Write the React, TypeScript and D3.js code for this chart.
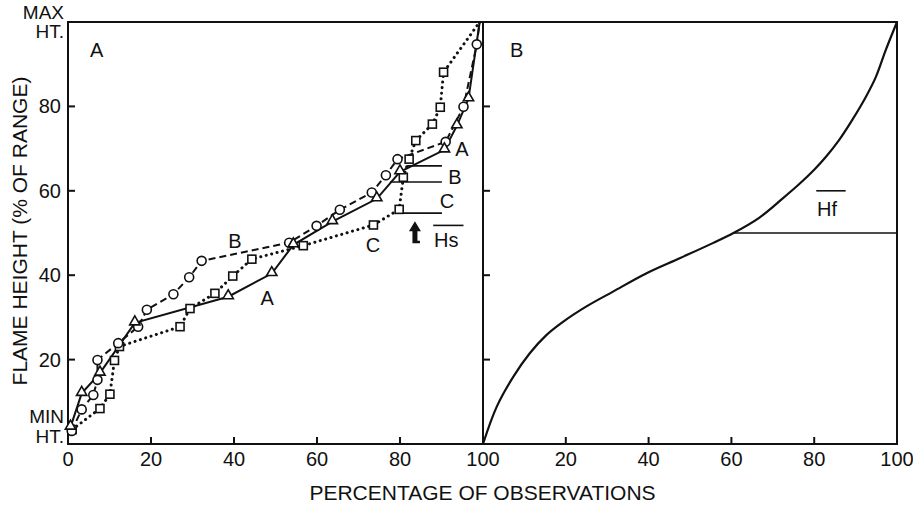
import React, { useRef, useEffect } from 'react';
import * as d3 from 'd3';

// panel A, observed series: [percentage of observations, flame height]
const seriesA = [
  [0.6, 4], [3.3, 12], [7.7, 16.8], [16.1, 28.7], [38.6, 34.9], [49.1, 40.4],
  [54.3, 47.2], [63.7, 52.7], [74.4, 58.1], [80, 64.5], [90.7, 69.7],
  [93.7, 75.4], [96.5, 81.8], [99.2, 100],
];
const seriesB = [
  [0.9, 3.1], [3.3, 8.2], [6.1, 11.6], [7.1, 15.2], [7.1, 19.9], [12.1, 23.9],
  [16.9, 27.8], [19, 31.8], [25.4, 35.5], [29.2, 39.5], [32.2, 43.4],
  [53.3, 47.7], [59.9, 51.7], [65.5, 55.5], [73.2, 59.6], [76.6, 63.7],
  [79.4, 67.5], [91, 71.6], [95.3, 79.9], [98.5, 94.7], [99.2, 100],
];
const seriesC = [
  [1, 3.4], [7.7, 8.4], [10.1, 11.8], [11.2, 19.8], [12.4, 23.1], [27, 27.8],
  [29.4, 32.1], [35.4, 35.7], [39.7, 39.8], [44.3, 43.8], [56.7, 47],
  [73.6, 51.9], [79.8, 55.6], [80.8, 63.2], [82.2, 67.5], [83.8, 71.9],
  [87.8, 75.8], [89.7, 79.8], [90.5, 88.1], [99.2, 100],
];
// mean height (Hs) levels of each series
const meanLabels = ['A', 'B', 'C'];
const meanLevels = [65.9, 62.1, 54.7];
const meanStarts = [81.7, 77.6, 80.7];
const meanEnd = 90.1;

// panel B, idealised distribution
const curveB = [
  [0, 0], [3.3, 8.8], [7.3, 15.9], [11.3, 21.5], [15.3, 25.8], [19.4, 29.0],
  [25, 32.6], [31.4, 36.1], [39.4, 40.4], [47.5, 44], [55.5, 47.6],
  [60.5, 50], [66.7, 53.6], [72.4, 58.2], [76.4, 61.6], [80, 65], [82.8, 68],
  [86, 72], [89.2, 76.8], [92.5, 82.3], [94.9, 87], [97.3, 93.4], [100, 100],
];
const hfLevel = 50;
const hfStart = 60.5;

const ticksA = [0, 20, 40, 60, 80, 100];
const ticksB = [20, 40, 60, 80, 100];
const yTicks = [20, 40, 60, 80];

const FONT = '"Liberation Sans", Arial, Helvetica, sans-serif';

function FlameChart({ width = 913, height = 507 }) {
  const ref = useRef(null);

  useEffect(() => {
    const svg = d3.select(ref.current);
    svg.selectAll('*').remove();

    const xA = d3.scaleLinear().domain([0, 100]).range([68, 483]);
    const xB = d3.scaleLinear().domain([0, 100]).range([483, 897]);
    const y = d3.scaleLinear().domain([0, 100]).range([444, 22]);

    const g = svg.append('g').attr('font-family', FONT).attr('fill', '#111');

    const text = (x, yy, s, size = 20, anchor = 'middle') =>
      g.append('text')
        .attr('x', x)
        .attr('y', yy)
        .attr('text-anchor', anchor)
        .attr('dominant-baseline', 'central')
        .attr('font-size', size)
        .attr('fill', '#111')
        .text(s);

    // frame
    g.append('rect')
      .attr('x', xA(0)).attr('y', y(100))
      .attr('width', xB(100) - xA(0)).attr('height', y(0) - y(100))
      .attr('fill', 'none').attr('stroke', '#111').attr('stroke-width', 2);
    g.append('line')
      .attr('x1', xB(0)).attr('x2', xB(0)).attr('y1', y(0)).attr('y2', y(100))
      .attr('stroke', '#111').attr('stroke-width', 2);

    // ticks (inward)
    const tk = 7;
    yTicks.forEach((t) => {
      [xA(0), xB(0)].forEach((x0) => {
        g.append('line').attr('x1', x0).attr('x2', x0 + tk)
          .attr('y1', y(t)).attr('y2', y(t))
          .attr('stroke', '#111').attr('stroke-width', 2);
      });
      text(xA(0) - 7, y(t), String(t), 20, 'end');
    });
    [20, 40, 60, 80].forEach((t) => {
      [xA(t), xB(t)].forEach((x0) => {
        g.append('line').attr('x1', x0).attr('x2', x0)
          .attr('y1', y(0)).attr('y2', y(0) - tk)
          .attr('stroke', '#111').attr('stroke-width', 2);
      });
    });
    ticksA.forEach((t) => text(xA(t), 459, String(t), 20));
    ticksB.forEach((t) => text(xB(t), 459, String(t), 20));

    text(64, 12, 'MAX', 19, 'end');
    text(64, 31, 'HT.', 19, 'end');
    text(64, 416, 'MIN', 19, 'end');
    text(64, 436, 'HT.', 19, 'end');

    text((xA(0) + xB(100)) / 2, 492, 'PERCENTAGE OF OBSERVATIONS', 21);
    g.append('text')
      .attr('transform', `translate(19,${y(50) - 2}) rotate(-90)`)
      .attr('text-anchor', 'middle')
      .attr('dominant-baseline', 'central')
      .attr('font-size', 21)
      .attr('fill', '#111')
      .text('FLAME HEIGHT (% OF RANGE)');

    // panel labels
    text(xA(5.3), y(93.4), 'A', 20, 'start');
    text(xB(6.5), y(93.4), 'B', 20, 'start');

    const line = d3.line().x((d) => xA(d[0])).y((d) => y(d[1]));

    // series lines
    g.append('path').datum(seriesA).attr('d', line)
      .attr('fill', 'none').attr('stroke', '#111').attr('stroke-width', 2);
    g.append('path').datum(seriesB).attr('d', line)
      .attr('fill', 'none').attr('stroke', '#111').attr('stroke-width', 2)
      .attr('stroke-dasharray', '7 4');
    g.append('path').datum(seriesC).attr('d', line)
      .attr('fill', 'none').attr('stroke', '#111').attr('stroke-width', 3)
      .attr('stroke-linecap', 'round').attr('stroke-dasharray', '0.1 5.5');

    // markers (not on the final point at max height)
    g.selectAll('.sq').data(seriesC.slice(0, -1)).enter().append('rect')
      .attr('x', (d) => xA(d[0]) - 4).attr('y', (d) => y(d[1]) - 4)
      .attr('width', 8).attr('height', 8)
      .attr('fill', 'white').attr('stroke', '#111').attr('stroke-width', 1.6);
    g.selectAll('.ci').data(seriesB.slice(0, -1)).enter().append('circle')
      .attr('cx', (d) => xA(d[0])).attr('cy', (d) => y(d[1])).attr('r', 4.5)
      .attr('fill', 'white').attr('stroke', '#111').attr('stroke-width', 1.6);
    const tri = d3.symbol().type(d3.symbolTriangle).size(46);
    g.selectAll('.tr').data(seriesA.slice(0, -1)).enter().append('path')
      .attr('d', tri)
      .attr('transform', (d) => `translate(${xA(d[0])},${y(d[1]) - 1})`)
      .attr('fill', 'white').attr('stroke', '#111').attr('stroke-width', 1.6);

    // mean level lines and labels
    meanLevels.forEach((lv, i) => {
      g.append('line')
        .attr('x1', xA(meanStarts[i])).attr('x2', xA(meanEnd))
        .attr('y1', y(lv)).attr('y2', y(lv))
        .attr('stroke', '#111').attr('stroke-width', 1.6);
    });
    text(xA(93.3), y(70), meanLabels[0], 20, 'start');
    text(xA(91.6), y(63.2), meanLabels[1], 20, 'start');
    text(xA(89.6), y(57.6), meanLabels[2], 20, 'start');

    // curve labels
    text(xA(40.2), y(48.1), 'B', 20);
    text(xA(48), y(34.6), 'A', 20);
    text(xA(73.5), y(47.2), 'C', 20);

    // Hs with arrow
    text(xA(88.2), y(48.4), 'Hs', 20, 'start');
    g.append('line')
      .attr('x1', xA(88)).attr('x2', xA(95.3))
      .attr('y1', y(51.8)).attr('y2', y(51.8))
      .attr('stroke', '#111').attr('stroke-width', 1.6);
    const ax = xA(83.6);
    const at = y(52.8);
    const ab = y(47.6);
    const hh = 10;
    g.append('path')
      .attr('d', `M${ax},${at} L${ax - 6},${at + hh} L${ax - 2.5},${at + hh} L${ax - 2.5},${ab} L${ax + 5},${ab} L${ax + 5},${ab - 2.5} L${ax + 2.5},${ab - 2.5} L${ax + 2.5},${at + hh} L${ax + 6},${at + hh} Z`)
      .attr('fill', '#111');

    // panel B curve
    const lineB = d3.line().x((d) => xB(d[0])).y((d) => y(d[1]))
      .curve(d3.curveCatmullRom.alpha(0.5));
    g.append('path').datum(curveB).attr('d', lineB)
      .attr('fill', 'none').attr('stroke', '#111').attr('stroke-width', 2.2);
    g.append('line')
      .attr('x1', xB(hfStart)).attr('x2', xB(100))
      .attr('y1', y(hfLevel)).attr('y2', y(hfLevel))
      .attr('stroke', '#111').attr('stroke-width', 1.6);
    text(xB(80.7), y(55.8), 'Hf', 20, 'start');
    g.append('line')
      .attr('x1', xB(80.5)).attr('x2', xB(87.6))
      .attr('y1', y(60)).attr('y2', y(60))
      .attr('stroke', '#111').attr('stroke-width', 1.6);
  }, [width, height]);

  return (
    <svg
      ref={ref}
      width={width}
      height={height}
      style={{ position: 'absolute', left: 0, top: 0, background: 'white' }}
    ></svg>
  );
}

export default function App() {
  return <FlameChart />;
}
